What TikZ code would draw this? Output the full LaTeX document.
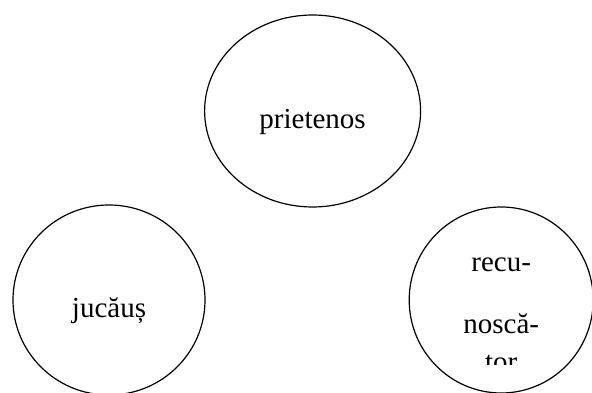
\documentclass[tikz,border=0pt]{standalone}
\usepackage{fontspec}
\setmainfont{Liberation Serif}
\usetikzlibrary{shapes.geometric,positioning}

\begin{document}
\begin{tikzpicture}[x=1pt,y=1pt,line width=1.2pt,font=\fontsize{29}{62}\selectfont,
		bubble/.style={draw,ellipse,inner sep=0pt,text depth=6pt,text height=42pt}]
		\useasboundingbox (0,0) rectangle (592,393);
		\node[bubble,minimum width=216pt,minimum height=192pt] (Prietenos) at (312.6,282) {prietenos};
		\node[bubble,minimum width=192pt,minimum height=190pt] (Jucaus)    at (109,93)    {jucăuș};
		\node[bubble,minimum width=184pt,minimum height=186pt,right=203pt of Jucaus] (Recunoscator) {};

		% text box of the right bubble is cut off at the bottom
		\begin{scope}
			\clip (Recunoscator.west |- 0,28) rectangle (Recunoscator.north east);
			\node[text width=150pt,align=center,anchor=north] (RecunoscatorText) at ([yshift=-48pt]Recunoscator.north) {recu-\\noscă-\\[-24pt]tor};
		\end{scope}
	\end{tikzpicture}
\end{document}
